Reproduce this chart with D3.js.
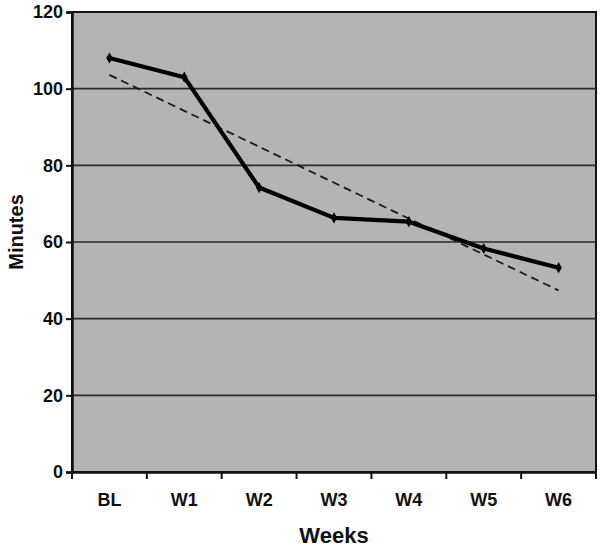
<!DOCTYPE html>
<html><head><meta charset="utf-8">
<script src="https://cdn.jsdelivr.net/npm/d3@7"></script>
<style>body{margin:0;background:#fff}svg{display:block}text{font-family:"Liberation Sans",Arial,sans-serif;font-weight:bold;fill:#111}</style>
</head><body><svg id="c" width="601" height="549"></svg>
<script>
const categories = ["BL","W1","W2","W3","W4","W5","W6"];
const minutes = [108, 103, 74.2, 66.3, 65.3, 58.3, 53.3];
const yTicks = [0,20,40,60,80,100,120];

const svg = d3.select("#c");
const m = {l:72, t:12, r:596, b:472};
const x = d3.scaleBand().domain(categories).range([m.l, m.r]).padding(0);
const y = d3.scaleLinear().domain([0,120]).range([m.b, m.t]);
const cx = d => x(d) + x.bandwidth()/2;

svg.append("rect").attr("x",m.l).attr("y",m.t).attr("width",m.r-m.l).attr("height",m.b-m.t)
  .attr("fill","#b4b4b4").attr("stroke","#111").attr("stroke-width",2);

svg.append("g").selectAll("line").data(yTicks.filter(v=>v>0&&v<120)).join("line")
  .attr("x1",m.l).attr("x2",m.r).attr("y1",d=>y(d)).attr("y2",d=>y(d))
  .attr("stroke","#2a2a2a").attr("stroke-width",1.6);

// y axis
const ya = svg.append("g").attr("transform",`translate(${m.l},0)`)
  .call(d3.axisLeft(y).tickValues(yTicks).tickSize(6).tickPadding(3));
ya.select(".domain").attr("stroke","#111").attr("stroke-width",2.5);
ya.selectAll(".tick line").attr("stroke","#111").attr("stroke-width",2);
ya.selectAll("text").style("font-size","18px").attr("fill","#111");

// x axis with ticks at band boundaries
const xa = svg.append("g").attr("transform",`translate(0,${m.b})`)
  .call(d3.axisBottom(x).tickSize(0).tickPadding(21));
xa.select(".domain").attr("stroke","#111").attr("stroke-width",2.5);
xa.selectAll("text").style("font-size","18px").attr("fill","#111");
svg.append("g").selectAll("line").data(categories).join("line")
  .attr("x1",d=>x(d)).attr("x2",d=>x(d)).attr("y1",m.b).attr("y2",m.b+7)
  .attr("stroke","#111").attr("stroke-width",2);
svg.append("line").attr("x1",m.r).attr("x2",m.r).attr("y1",m.b).attr("y2",m.b+7)
  .attr("stroke","#111").attr("stroke-width",2);

// linear trend (least squares on data)
const n = minutes.length, xs = d3.range(n);
const mx = d3.mean(xs), my = d3.mean(minutes);
const slope = d3.sum(xs,(i)=> (i-mx)*(minutes[i]-my)) / d3.sum(xs,i=>(i-mx)**2);
const icpt = my - slope*mx;
svg.append("line")
  .attr("x1",cx(categories[0])).attr("y1",y(icpt))
  .attr("x2",cx(categories[n-1])).attr("y2",y(icpt+slope*(n-1)))
  .attr("stroke","#1a1a1a").attr("stroke-width",1.8).attr("stroke-dasharray","8,5");

// data line
svg.append("path").datum(minutes)
  .attr("d", d3.line().x((d,i)=>cx(categories[i])).y(d=>y(d)))
  .attr("fill","none").attr("stroke","#000").attr("stroke-width",4.2).attr("stroke-linejoin","round");
svg.append("g").selectAll("path").data(minutes).join("path")
  .attr("d", d3.symbol(d3.symbolDiamond, 36))
  .attr("transform",(d,i)=>`translate(${cx(categories[i])},${y(d)})`)
  .attr("fill","#000");

svg.append("text").attr("x",(m.l+m.r)/2).attr("y",543).attr("text-anchor","middle")
  .style("font-size","22px").text("Weeks");
svg.append("text").attr("transform",`translate(23,232) rotate(-90)`)
  .attr("text-anchor","middle").style("font-size","20px").text("Minutes");
</script></body></html>
